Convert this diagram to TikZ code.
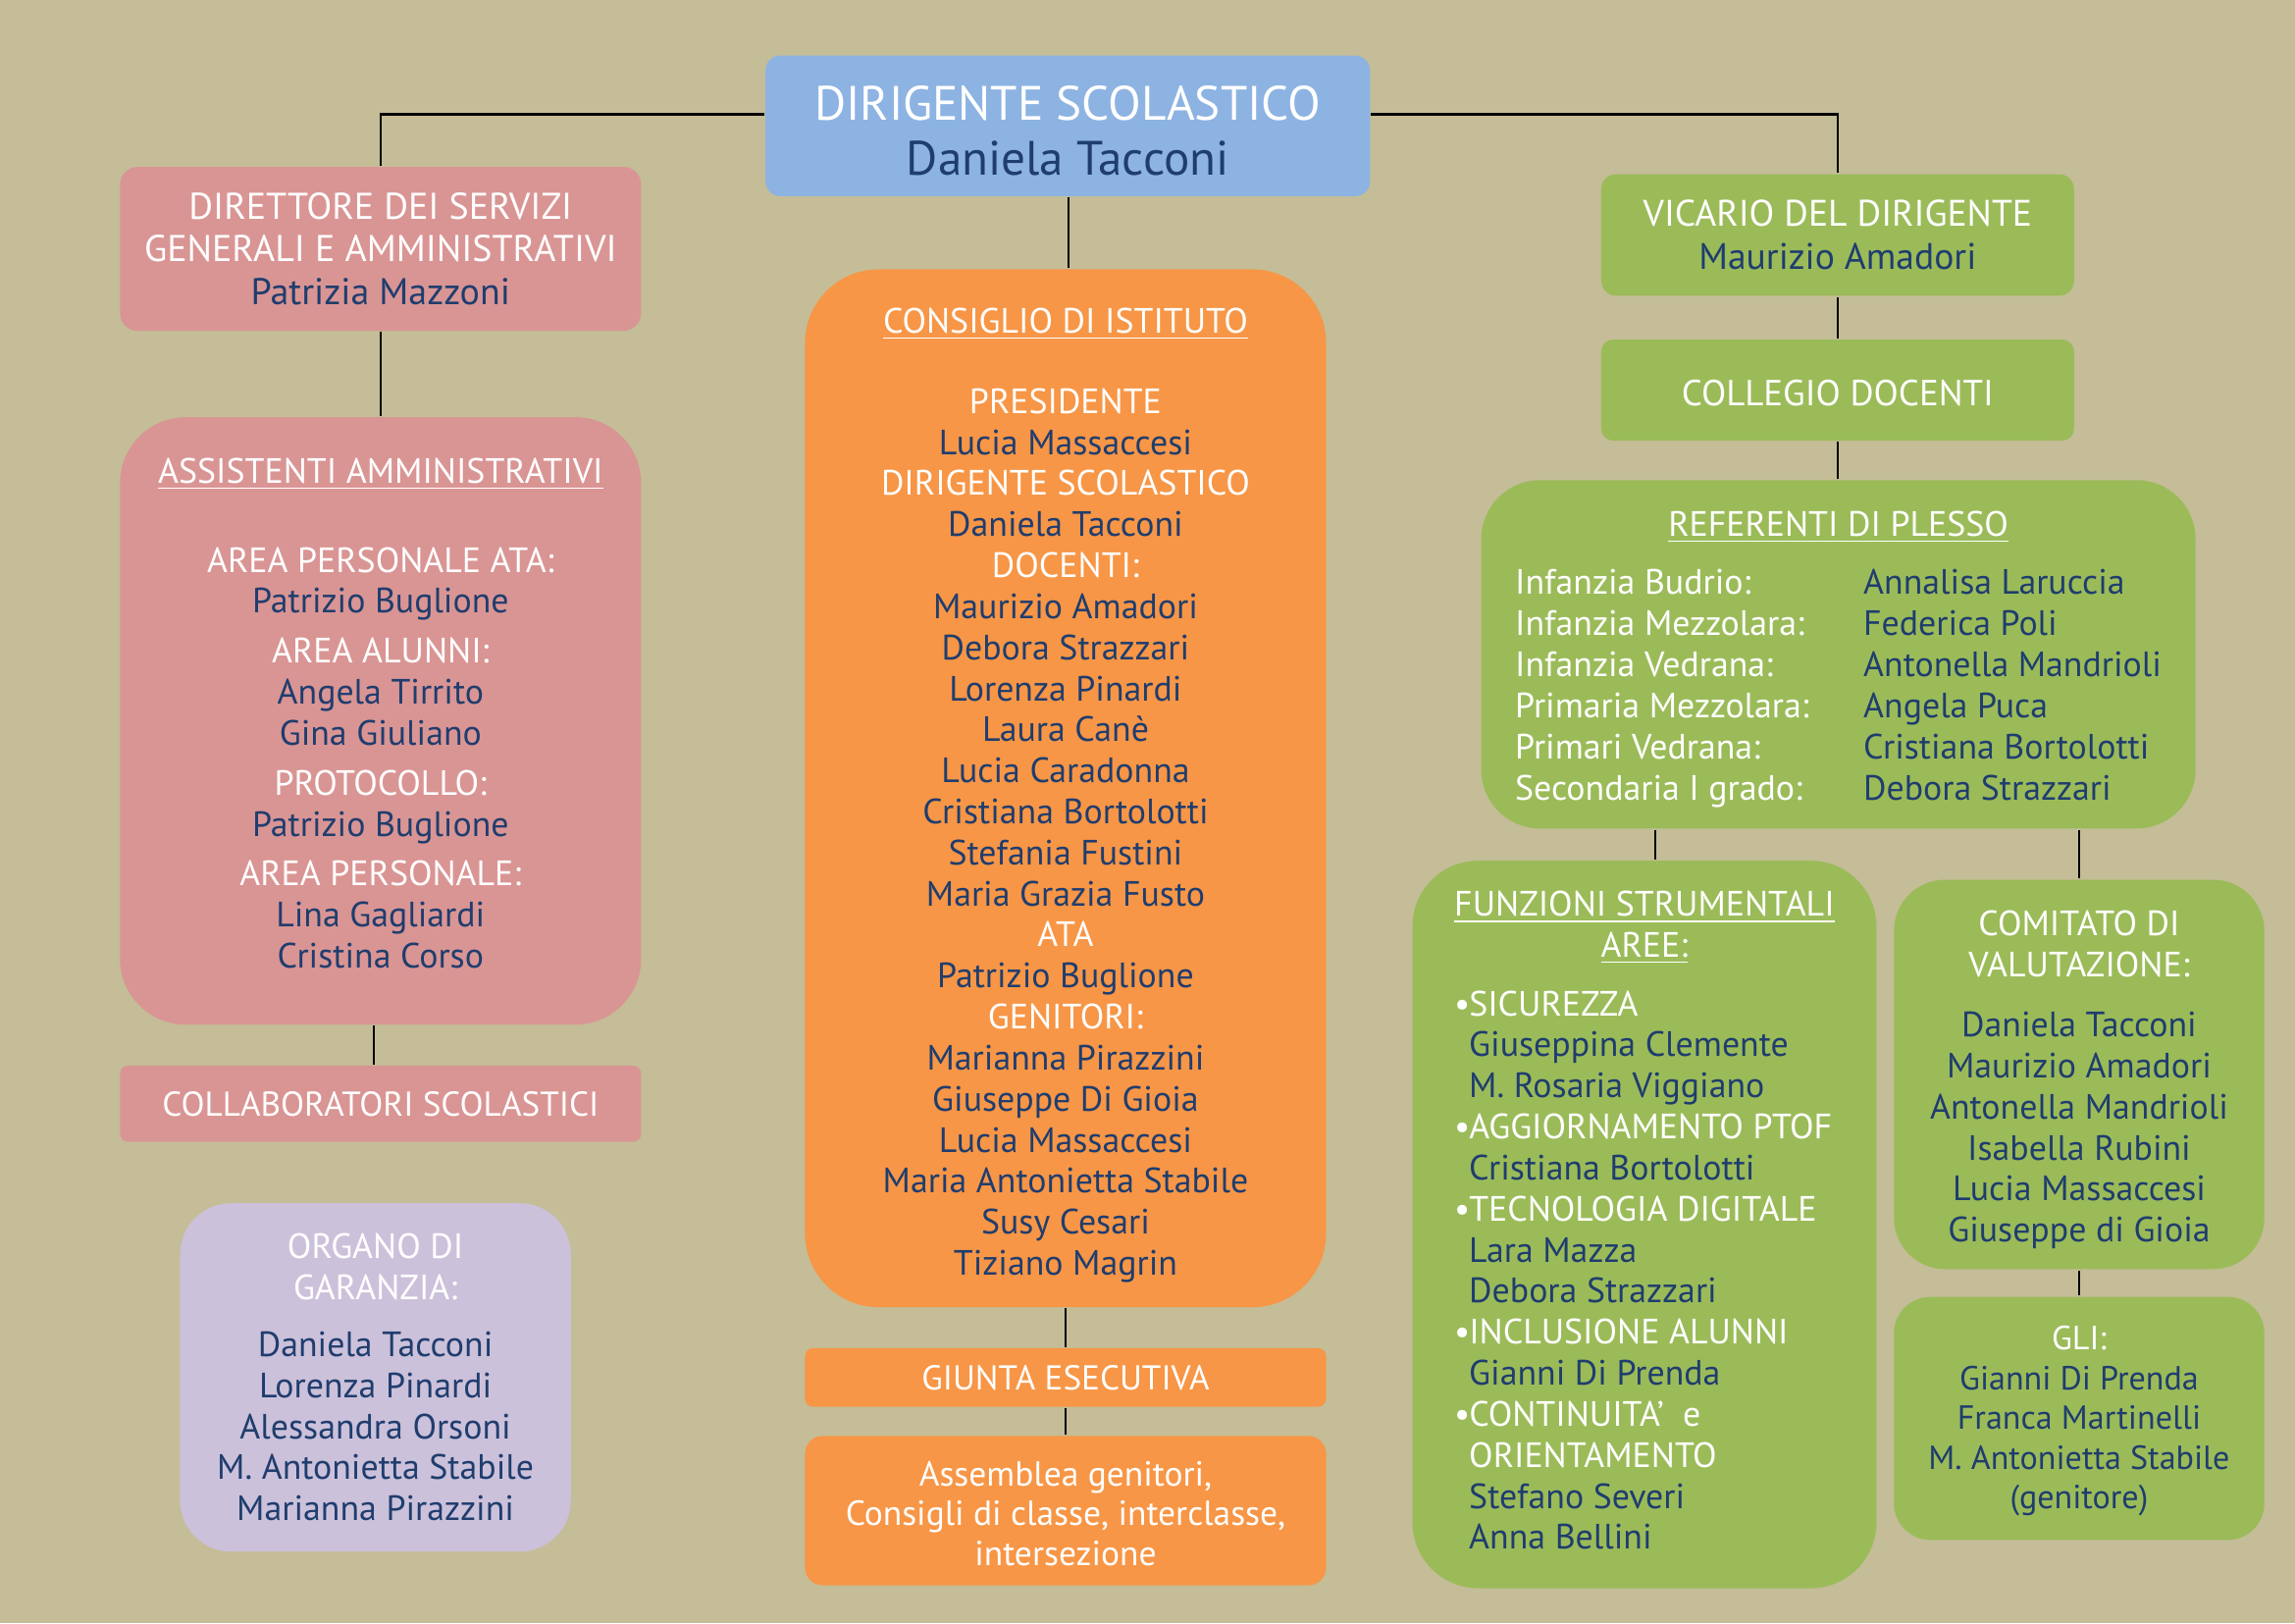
\documentclass[tikz,border=0pt]{standalone}
\usepackage{fontspec}
\setmainfont{PT Sans}
\definecolor{sfondo}{HTML}{C4BD97}
\definecolor{blu}{HTML}{8DB3E2}
\definecolor{rosa}{HTML}{D99594}
\definecolor{arancio}{HTML}{F79646}
\definecolor{verde}{HTML}{9BBB59}
\definecolor{lilla}{HTML}{CCC1DA}
\definecolor{nomi}{HTML}{1F3D6E}
\newcommand{\nome}[1]{\textcolor{nomi}{#1}}
\newcommand{\punto}{\makebox[1.5mm][l]{\textbullet}}
\newcommand{\rientro}{\hspace*{1.5mm}}
\begin{document}
\begin{tikzpicture}[x=0.14917mm, y=-0.14917mm, line width=.7pt,
  riquadro/.style={rectangle, rounded corners=#1, inner sep=0pt, text=white, align=center,
    font=\fontsize{10.2}{11.9}\selectfont},
  riquadro/.default=2mm]
\fill[sfondo] (0,0) rectangle (1568,1109);
\useasboundingbox (0,0) rectangle (1568,1109);

% colonna centrale
\node[riquadro=1.5mm, fill=blu, minimum width=413*0.14917mm, minimum height=96*0.14917mm,
  font=\fontsize{14}{16}\selectfont] (ds) at (729.5,86) {\rule{0pt}{4.5mm}DIRIGENTE SCOLASTICO\\\nome{Daniela Tacconi}};
\node[riquadro=7.5mm, fill=arancio, minimum width=356*0.14917mm, minimum height=709*0.14917mm] (ci) at (728,538.5)
  {\rule{0pt}{4mm}\underline{CONSIGLIO DI ISTITUTO}\\[4mm]
   PRESIDENTE\\\nome{Lucia Massaccesi}\\
   DIRIGENTE SCOLASTICO\\\nome{Daniela Tacconi}\\
   DOCENTI:\\\nome{Maurizio Amadori}\\\nome{Debora Strazzari}\\\nome{Lorenza Pinardi}\\
   \nome{Laura Canè}\\\nome{Lucia Caradonna}\\\nome{Cristiana Bortolotti}\\
   \nome{Stefania Fustini}\\\nome{Maria Grazia Fusto}\\
   ATA\\\nome{Patrizio Buglione}\\
   GENITORI:\\\nome{Marianna Pirazzini}\\\nome{Giuseppe Di Gioia}\\\nome{Lucia Massaccesi}\\
   \nome{Maria Antonietta Stabile}\\\nome{Susy Cesari}\\\nome{Tiziano Magrin}};
\node[riquadro=.8mm, fill=arancio, minimum width=356*0.14917mm, minimum height=40*0.14917mm,
  font=\fontsize{10}{11.9}\selectfont] (ge) at (728,941) {GIUNTA ESECUTIVA};
\node[riquadro=1.8mm, fill=arancio, minimum width=356*0.14917mm, minimum height=102*0.14917mm,
  font=\fontsize{10.1}{11.5}\selectfont] (ag) at (728,1032)
  {\rule{0pt}{3.1mm}Assemblea genitori,\\Consigli di classe, interclasse,\\intersezione};

% colonna sinistra
\node[riquadro=1.8mm, fill=rosa, minimum width=356*0.14917mm, minimum height=112*0.14917mm,
  font=\fontsize{10.8}{12.3}\selectfont] (dsga) at (260,170)
  {DIRETTORE DEI SERVIZI\\GENERALI E AMMINISTRATIVI\\\nome{Patrizia Mazzoni}};
\node[riquadro=6.7mm, fill=rosa, minimum width=356*0.14917mm, minimum height=415*0.14917mm] (aa) at (260,492.5)
  {\underline{ASSISTENTI AMMINISTRATIVI}\\[4.9mm]
   AREA PERSONALE ATA:\\\nome{Patrizio Buglione}\\[.9mm]
   AREA ALUNNI:\\\nome{Angela Tirrito}\\\nome{Gina Giuliano}\\[.9mm]
   PROTOCOLLO:\\\nome{Patrizio Buglione}\\[.9mm]
   AREA PERSONALE:\\\nome{Lina Gagliardi}\\\nome{Cristina Corso}\rule[-1.6mm]{0pt}{1.6mm}};
\node[riquadro=.8mm, fill=rosa, minimum width=356*0.14917mm, minimum height=52*0.14917mm,
  font=\fontsize{10}{11.9}\selectfont] (cs) at (260,754)
  {COLLABORATORI SCOLASTICI};
\node[riquadro=5.2mm, fill=lilla, minimum width=267*0.14917mm, minimum height=238*0.14917mm] (og) at (256.5,941)
  {ORGANO DI\\GARANZIA:\\[1.6mm]
   \nome{Daniela Tacconi}\\\nome{Lorenza Pinardi}\\\nome{Alessandra Orsoni}\\
   \nome{M. Antonietta Stabile}\\\nome{Marianna Pirazzini}};

% colonna destra
\node[riquadro=1.5mm, fill=verde, minimum width=323*0.14917mm, minimum height=83*0.14917mm,
  font=\fontsize{10.7}{12.3}\selectfont] (vd) at (1255.5,160.5) {VICARIO DEL DIRIGENTE\\\nome{Maurizio Amadori}};
\node[riquadro=1.2mm, fill=verde, minimum width=323*0.14917mm, minimum height=69*0.14917mm,
  font=\fontsize{10.5}{12.3}\selectfont] (cd) at (1255.5,266.5) {\rule{0pt}{3.2mm}COLLEGIO DOCENTI};
\node[riquadro=6mm, fill=verde, minimum width=488*0.14917mm, minimum height=238*0.14917mm] (rp) at (1256,447)
  {\begin{tabular}{@{}p{35.5mm}@{}l@{}}
   \multicolumn{2}{@{}c@{}}{\rule{0pt}{4mm}\underline{REFERENTI DI PLESSO}}\\[1.8mm]
   Infanzia Budrio: & \nome{Annalisa Laruccia}\\
   Infanzia Mezzolara: & \nome{Federica Poli}\\
   Infanzia Vedrana: & \nome{Antonella Mandrioli}\\
   Primaria Mezzolara: & \nome{Angela Puca}\\
   Primari Vedrana: & \nome{Cristiana Bortolotti}\\
   Secondaria I grado: & \nome{Debora Strazzari}
   \end{tabular}};
\node[riquadro=6.7mm, fill=verde, minimum width=317*0.14917mm, minimum height=497*0.14917mm] (fs) at (1123.5,836.5)
  {\begin{tabular}{@{}l@{}}
   \multicolumn{1}{@{}c@{}}{\underline{FUNZIONI STRUMENTALI}}\\
   \multicolumn{1}{@{}c@{}}{\underline{AREE:}}\\[1.8mm]
   \punto SICUREZZA\\\rientro\nome{Giuseppina Clemente}\\\rientro\nome{M. Rosaria Viggiano}\\
   \punto AGGIORNAMENTO PTOF\\\rientro\nome{Cristiana Bortolotti}\\
   \punto TECNOLOGIA DIGITALE\\\rientro\nome{Lara Mazza}\\\rientro\nome{Debora Strazzari}\\
   \punto INCLUSIONE ALUNNI\\\rientro\nome{Gianni Di Prenda}\\
   \punto CONTINUITA’\ \ e\\\rientro ORIENTAMENTO\\\rientro\nome{Stefano Severi}\\\rientro\nome{Anna Bellini}
   \end{tabular}};
\node[riquadro=5.2mm, fill=verde, minimum width=253*0.14917mm, minimum height=266*0.14917mm] (cv) at (1420.5,734)
  {\rule{0pt}{3.7mm}COMITATO DI\\VALUTAZIONE:\\[1.9mm]
   \nome{Daniela Tacconi}\\\nome{Maurizio Amadori}\\\nome{Antonella Mandrioli}\\
   \nome{Isabella Rubini}\\\nome{Lucia Massaccesi}\\\nome{Giuseppe di Gioia}};
\node[riquadro=3.7mm, fill=verde, minimum width=253*0.14917mm, minimum height=166*0.14917mm,
  font=\fontsize{9.7}{11.5}\selectfont] (gli) at (1420.5,969)
  {\rule{0pt}{3mm}GLI:\\\nome{Gianni Di Prenda}\\\nome{Franca Martinelli}\\\nome{M. Antonietta Stabile}\\\nome{(genitore)}};

% collegamenti
\draw (dsga.north) |- ([yshift=1.2mm]ds.west);
\draw ([yshift=1.2mm]ds.east) -| (vd.north);
\draw ([xshift=.3mm]ci.north) -- ([xshift=.3mm]ci.north |- ds.south);
\draw (dsga.south) -- (aa.north);
\draw ([xshift=-.7mm]aa.south) -- ([xshift=-.7mm]aa.south |- cs.north);
\draw (ci.south) -- (ge.north);
\draw (ge.south) -- (ag.north);
\draw (vd.south) -- (cd.north);
\draw (cd.south) -- (cd.south |- rp.north);
\draw ([xshift=1.1mm]fs.north) -- ([xshift=1.1mm]fs.north |- rp.south);
\draw (cv.north) -- (cv.north |- rp.south);
\draw (cv.south) -- (gli.north);
\end{tikzpicture}
\end{document}
